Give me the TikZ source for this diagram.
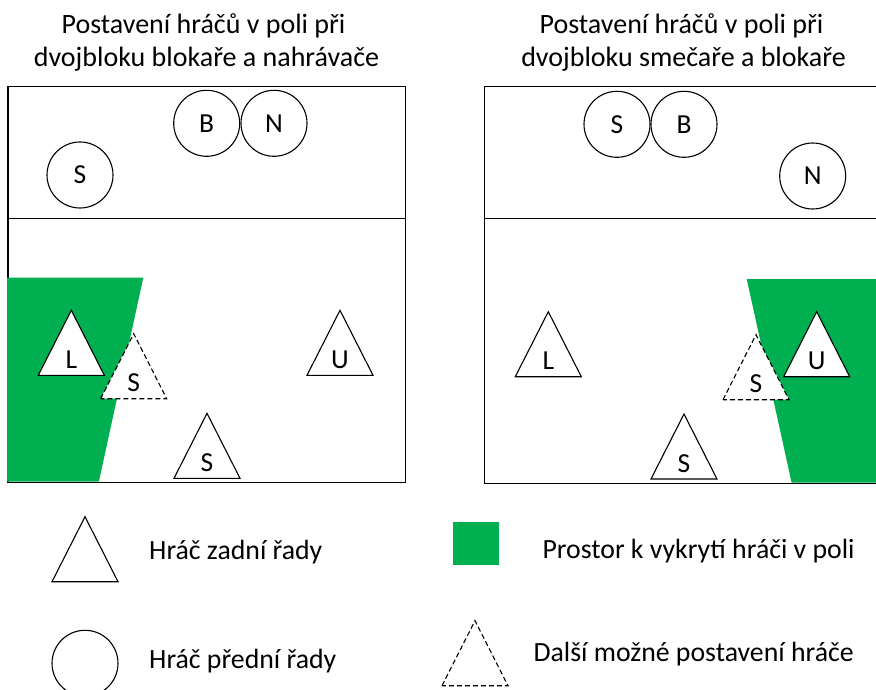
\documentclass[tikz,border=0pt]{standalone}
\usepackage{fontspec}
\setmainfont{Carlito}
\definecolor{fieldgreen}{HTML}{00B050}
\newcommand{\pltri}[5]{%
  \filldraw[#1] ({#2-33},{#3}) -- ({#2},{#3-65}) -- ({#2+33},{#3}) -- cycle;
  \node[lbl] (#4) at ({#2},{#3-7}) {#5};}
\begin{document}
\begin{tikzpicture}[x=1pt,y=-1pt,
  court/.style={draw=black, line width=1.5pt},
  player/.style={circle, draw, fill=white, line width=1.1pt, minimum size=66pt, inner sep=0pt, font=\fontsize{27.5}{30}\selectfont},
  tri/.style={draw, fill=white, line width=1.1pt, line join=miter},
  dtri/.style={draw, fill=white, line width=1.1pt, dash pattern=on 5pt off 3pt},
  lbl/.style={font=\fontsize{27.5}{30}\selectfont, inner sep=0pt, anchor=base},
  ttl/.style={font=\fontsize{28}{30}\selectfont, inner sep=0pt, anchor=base},
  leg/.style={font=\fontsize{27.8}{30}\selectfont, inner sep=0pt, anchor=base west},
]
\clip (0,0) rectangle (876,690);
\fill[white] (0,0) rectangle (876,690);
% titles
\node[ttl] (t1a) at (203.5,33.3) {Postavení hráčů v poli při};
\node[ttl] (t1b) at (206.5,66.7) {dvojbloku blokaře a nahrávače};
\node[ttl] (t2a) at (681.5,33.3) {Postavení hráčů v poli při};
\node[ttl] (t2b) at (683.5,66.7) {dvojbloku smečaře a blokaře};
% courts
\draw[court] (8,86.5) rectangle (405.7,482.3);
\draw[court] (8,218.7) -- (405.7,218.7);
\draw[court] (484.3,86.5) rectangle (880,483.3);
\draw[court] (484.3,218.7) -- (880,218.7);
% green areas
\fill[fieldgreen] (7,277.7) -- (143.3,277.7) -- (98.9,481.6) -- (7,481.6) -- cycle;
\fill[fieldgreen] (746.7,279) -- (878,279) -- (878,482.6) -- (791.6,482.6) -- cycle;
% left court front row
\node[player] (lB) at (206.7,123.3) {B};
\node[player] (lN) at (274,123.3) {N};
\node[player] (lS) at (80,175) {S};
% right court front row
\node[player] (rS) at (617,124.3) {S};
\node[player] (rB) at (684,124.3) {B};
\node[player] (rN) at (812.7,176) {N};
% left court back row
\pltri{tri}{71.3}{375.3}{lL}{L}
\pltri{dtri}{133.7}{398.7}{lSd}{S}
\pltri{tri}{340}{375.3}{lU}{U}
\pltri{tri}{207}{478.3}{lSb}{S}
% right court back row
\pltri{tri}{548.3}{376.7}{rL}{L}
\pltri{dtri}{756}{399.7}{rSd}{S}
\pltri{tri}{816.7}{376.7}{rU}{U}
\pltri{tri}{684}{479}{rSb}{S}
% legend
\draw[tri] (52,581.7) -- (85,516.7) -- (118,581.7) -- cycle;
\node[leg] (g1) at (149,559.3) {Hráč zadní řady};
\node[player] (gc) at (85,663.3) {};
\node[leg] (g2) at (149,668.5) {Hráč přední řady};
\fill[fieldgreen] (452.7,522.3) rectangle (499.3,565.3);
\node[leg] (g3) at (542.3,558.3) {Prostor k vykrytí hráči v poli};
\draw[dtri] (442,685.7) -- (475,620.7) -- (508,685.7) -- cycle;
\node[leg] (g4) at (533.3,661.7) {Další možné postavení hráče};
\end{tikzpicture}
\end{document}
